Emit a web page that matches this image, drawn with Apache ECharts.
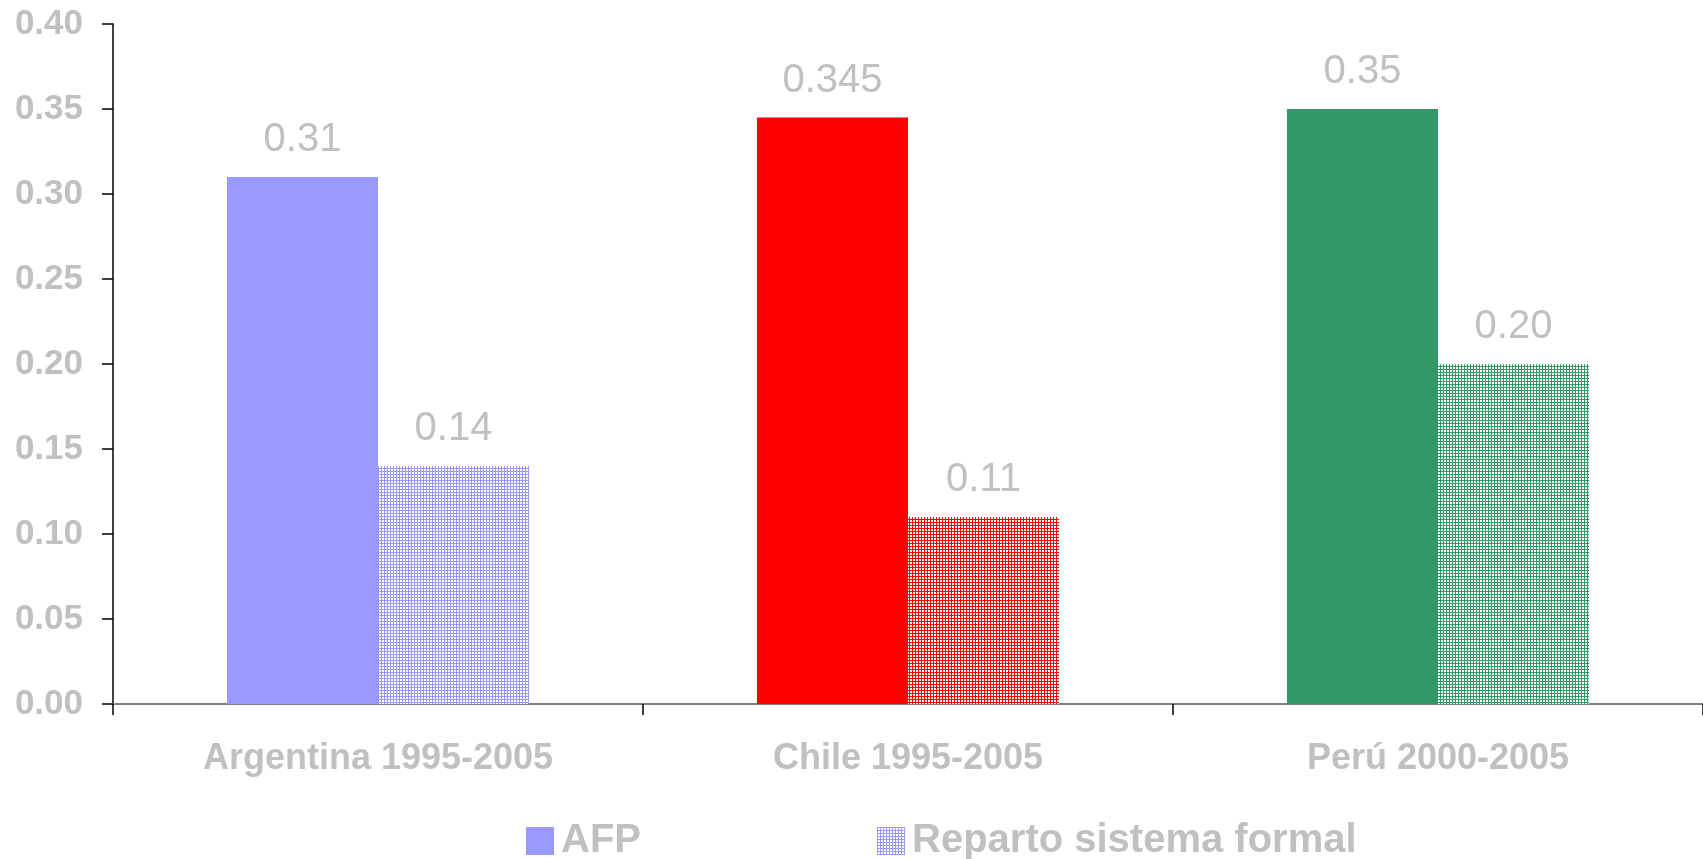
<!DOCTYPE html>
<html>
<head>
<meta charset="utf-8">
<script src="https://cdn.jsdelivr.net/npm/echarts@6/dist/echarts.min.js"></script>
<style>
  html, body { margin: 0; padding: 0; background: #fff; }
  #chart { width: 1703px; height: 859px; }
</style>
</head>
<body>
<div id="chart"></div>
<script>
// Categories and values
const categories = ['Argentina 1995-2005', 'Chile 1995-2005', 'Perú 2000-2005'];
const afpValues = [0.31, 0.345, 0.35];
const repartoValues = [0.14, 0.11, 0.20];
const seriesNames = ['AFP', 'Reparto sistema formal'];
const yTicks = [0, 0.05, 0.10, 0.15, 0.20, 0.25, 0.30, 0.35, 0.40];

// One colour per country
const countryColors = ['#9999FF', '#FF0000', '#339966'];

// Dithered fill: coloured grid lines around small white squares
function dither(color) {
  const c = document.createElement('canvas');
  c.width = 3; c.height = 3;
  const ctx = c.getContext('2d');
  ctx.fillStyle = '#ffffff';
  ctx.fillRect(0, 0, 3, 3);
  ctx.fillStyle = color;
  ctx.fillRect(0, 0, 3, 1);
  ctx.fillRect(0, 0, 1, 3);
  return { image: c, repeat: 'repeat' };
}

function fmt(v) {
  const d = (String(v).split('.')[1] || '').length;
  return v.toFixed(Math.max(2, d));
}

const grey = '#c0c0c0';
const font = 'Liberation Sans, Arial, sans-serif';

const chart = echarts.init(document.getElementById('chart'), null, { renderer: 'canvas' });

const labelStyle = {
  show: true,
  position: 'top',
  distance: 17,
  color: grey,
  fontFamily: font,
  fontSize: 40,
  fontWeight: 'normal',
  formatter: p => fmt(p.value)
};

chart.setOption({
  animation: false,
  backgroundColor: '#ffffff',
  grid: { left: 113, right: 0, top: 24, bottom: 155, containLabel: false },
  legend: {
    left: 521,
    top: 816,
    itemWidth: 28,
    itemHeight: 28,
    itemGap: 236,
    icon: 'rect',
    textStyle: { color: grey, fontFamily: font, fontSize: 40, fontWeight: 'bold', padding: [0, 0, 0, 2] },
    data: seriesNames
  },
  xAxis: {
    type: 'category',
    data: categories,
    axisLine: { lineStyle: { color: '#808080', width: 2 } },
    axisTick: { show: true, length: 11, lineStyle: { color: '#000', width: 1.5 } },
    axisLabel: { margin: 37, color: grey, fontFamily: font, fontSize: 36, fontWeight: 'bold' }
  },
  yAxis: {
    type: 'value',
    min: yTicks[0],
    max: yTicks[yTicks.length - 1],
    interval: 0.05,
    splitLine: { show: false },
    axisLine: { show: true, lineStyle: { color: '#000', width: 1.5 } },
    axisTick: { show: true, length: 11, lineStyle: { color: '#000', width: 1.5 } },
    axisLabel: {
      margin: 30,
      color: grey,
      fontFamily: font,
      fontSize: 35,
      fontWeight: 'bold',
      formatter: v => v.toFixed(2)
    }
  },
  series: [
    {
      name: seriesNames[0],
      type: 'bar',
      barGap: '0%',
      barCategoryGap: '43%',
      itemStyle: { color: countryColors[0] },
      label: labelStyle,
      data: afpValues.map((v, i) => ({ value: v, itemStyle: { color: countryColors[i] } }))
    },
    {
      name: seriesNames[1],
      type: 'bar',
      barGap: '0%',
      barCategoryGap: '43%',
      itemStyle: { color: dither(countryColors[0]) },
      label: labelStyle,
      data: repartoValues.map((v, i) => ({ value: v, itemStyle: { color: dither(countryColors[i]) } }))
    }
  ]
});
</script>
</body>
</html>
